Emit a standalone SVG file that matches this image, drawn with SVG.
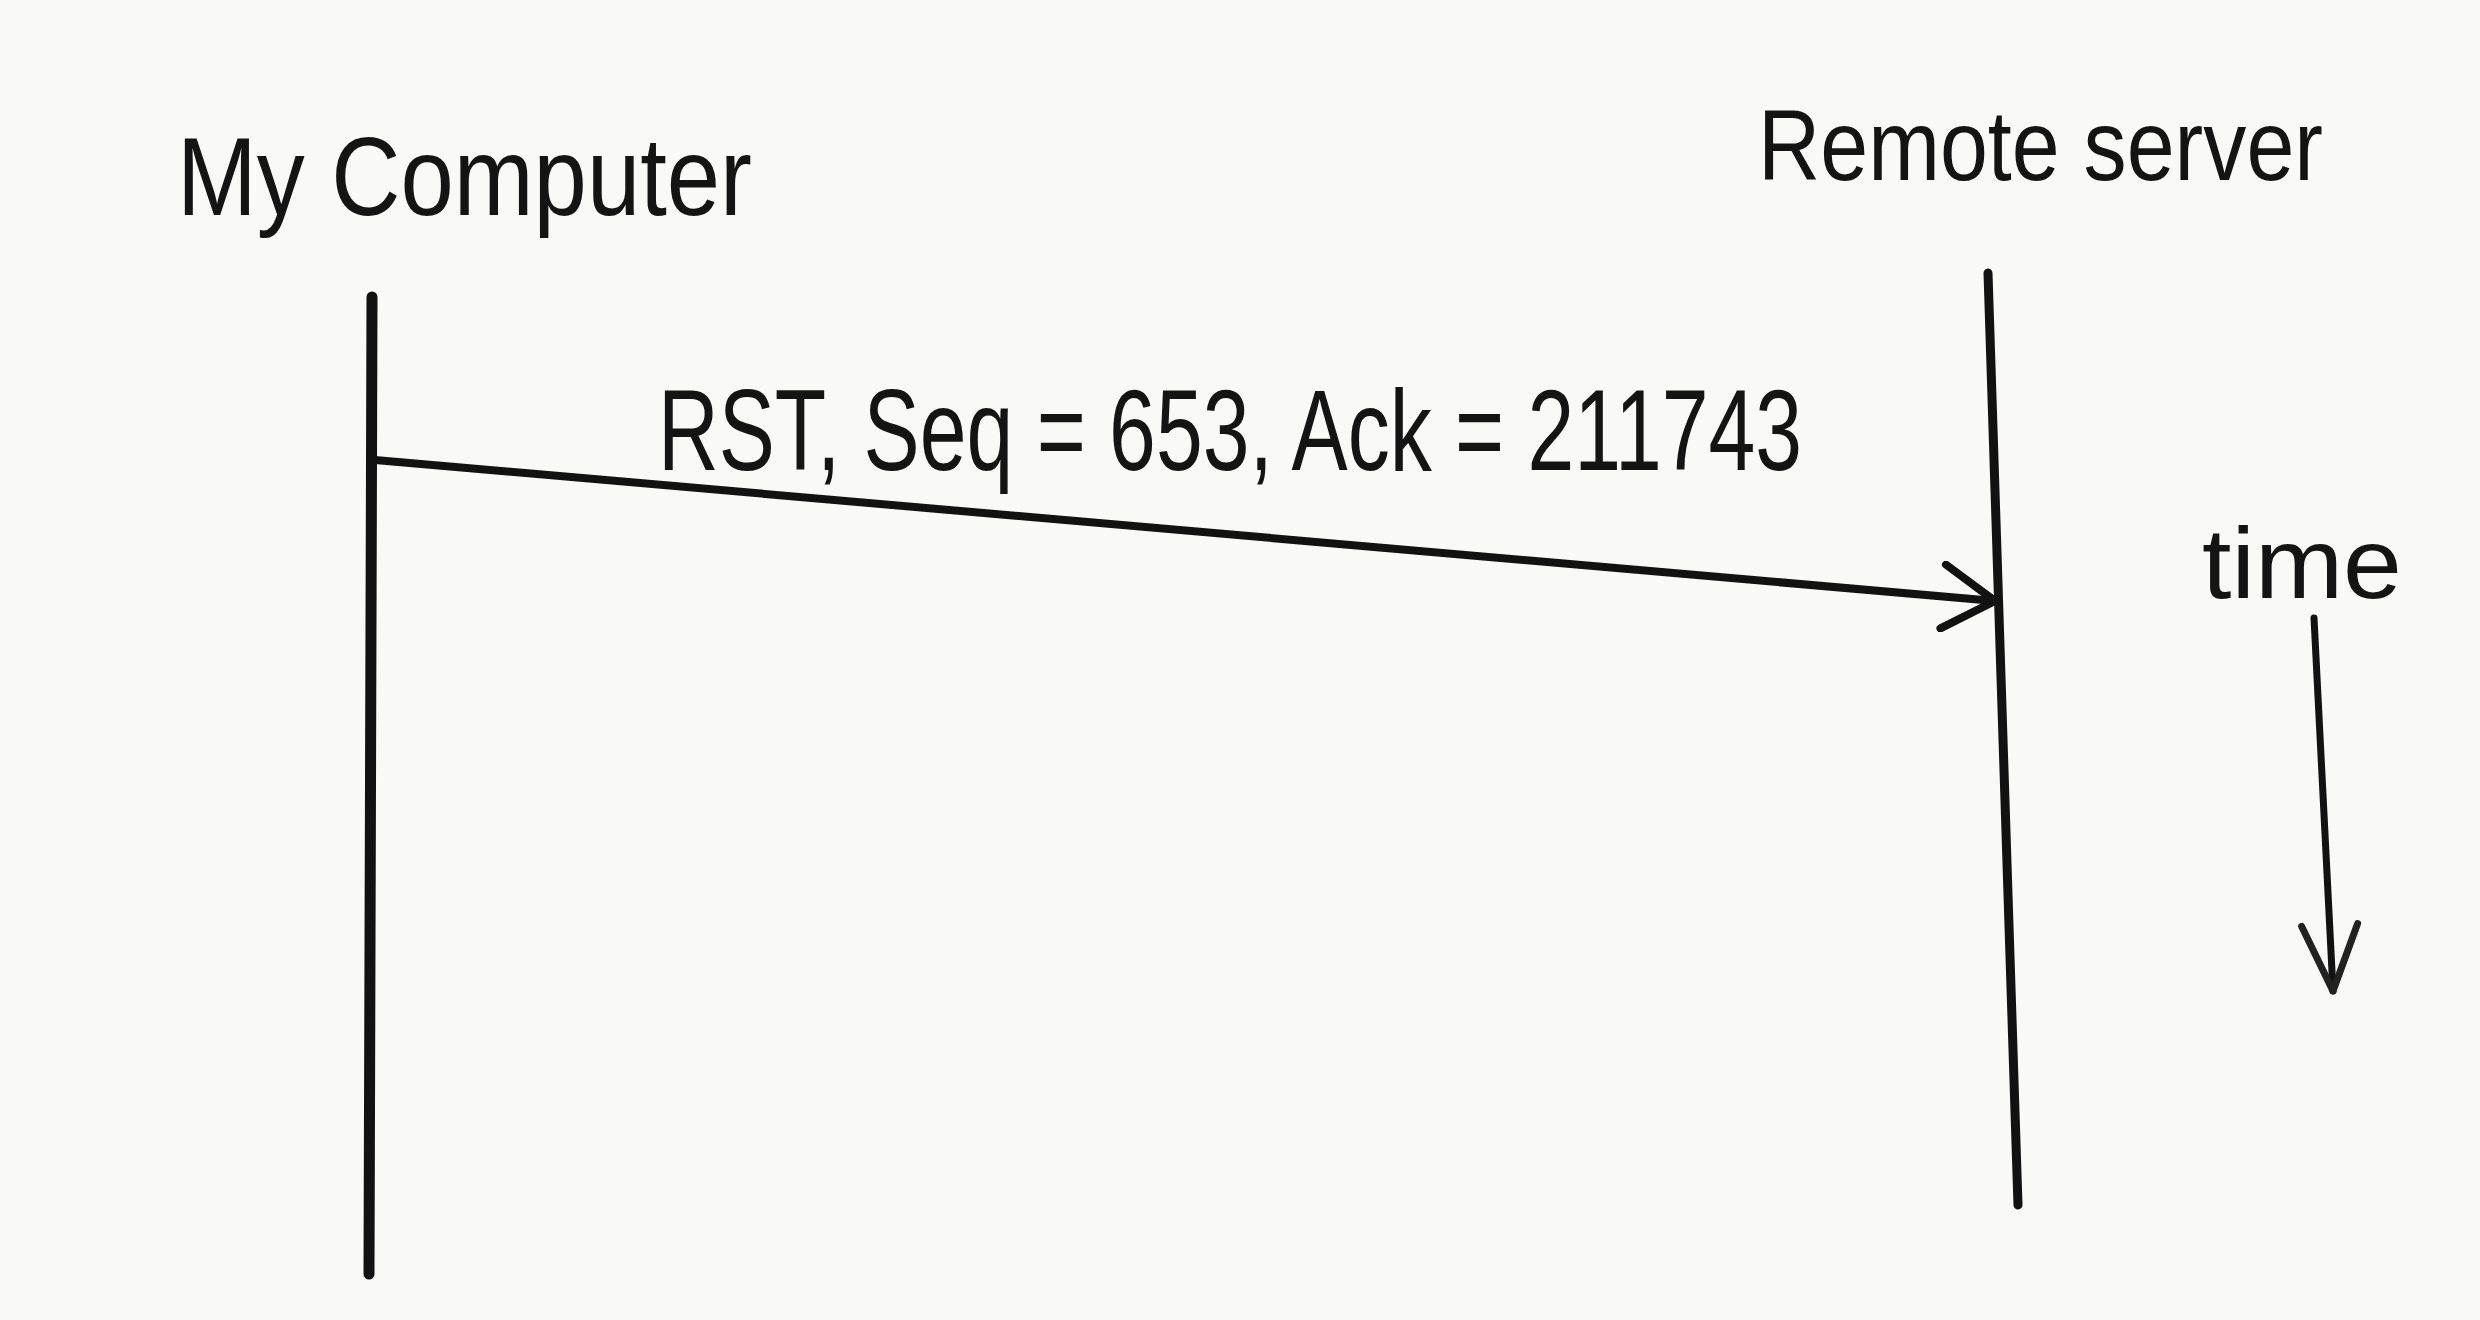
<svg xmlns="http://www.w3.org/2000/svg" width="2480" height="1320" viewBox="0 0 2480 1320">
  <style>
    .hand { font-family: "Liberation Sans", "DejaVu Sans", sans-serif; fill: #141414; }
    .ink { stroke: #121212; fill: none; stroke-linecap: round; stroke-linejoin: round; }
  </style>
  <defs>
    <marker id="openArrow" viewBox="0 0 62 72" refX="58" refY="36" markerWidth="62" markerHeight="72" markerUnits="userSpaceOnUse" orient="auto">
      <path d="M6,4 L58,36 L6,68" fill="none" stroke="#121212" stroke-width="8" stroke-linecap="round" stroke-linejoin="round"/>
    </marker>
    <marker id="timeArrow" viewBox="0 0 76 64" refX="72" refY="32" markerWidth="76" markerHeight="64" markerUnits="userSpaceOnUse" orient="auto">
      <path d="M6,4 L72,32 L6,60" fill="none" stroke="#222" stroke-width="7" stroke-linecap="round" stroke-linejoin="round"/>
    </marker>
  </defs>
  <rect x="0" y="0" width="2480" height="1320" fill="#f9f9f7"/>

  <g id="node-my-computer">
    <text class="hand" x="177" y="215" font-size="112" textLength="575" lengthAdjust="spacingAndGlyphs">My Computer</text>
    <line class="ink" x1="372" y1="297" x2="369" y2="1274" stroke-width="11"/>
  </g>

  <g id="node-remote-server">
    <text class="hand" x="1758" y="180" font-size="100" textLength="565" lengthAdjust="spacingAndGlyphs">Remote server</text>
    <line class="ink" x1="1988" y1="273" x2="2018" y2="1205" stroke-width="9" stroke="#1e1e1e"/>
  </g>

  <g id="connectors">
    <line class="ink" x1="375" y1="460" x2="1995" y2="601" stroke-width="8" marker-end="url(#openArrow)"/>
    <text class="hand" x="658" y="470" font-size="115" textLength="1144" lengthAdjust="spacingAndGlyphs">RST, Seq = 653, Ack = 211743</text>
  </g>

  <g id="time-indicator">
    <text class="hand" x="2202" y="598" font-size="100" textLength="200" lengthAdjust="spacingAndGlyphs">time</text>
    <line class="ink" x1="2314" y1="618" x2="2333" y2="991" stroke-width="7" stroke="#222" marker-end="url(#timeArrow)"/>
  </g>
</svg>
